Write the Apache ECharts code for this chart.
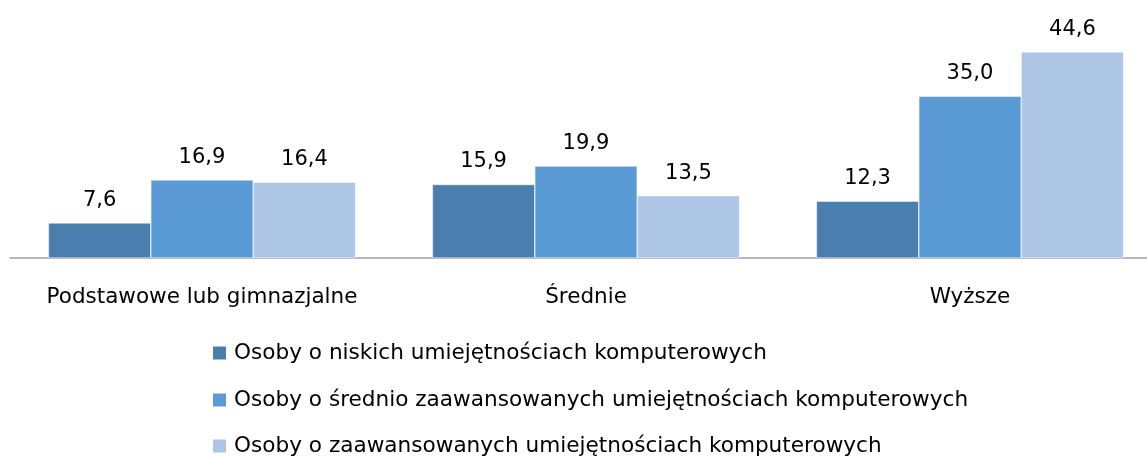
<!DOCTYPE html>
<html>
<head>
<meta charset="utf-8">
<script src="https://cdn.jsdelivr.net/npm/echarts@6/dist/echarts.min.js"></script>
<style>
  html, body { margin: 0; padding: 0; background: #fff; }
  #chartContainer { width: 1147px; height: 457px; }
</style>
</head>
<body>
<div id="chartContainer"></div>
<script>
// wykształcenie
let categories = ['Podstawowe lub gimnazjalne', 'Średnie', 'Wyższe'];

let seriesNames = [
    'Osoby o niskich umiejętnościach komputerowych',
    'Osoby o średnio zaawansowanych umiejętnościach komputerowych',
    'Osoby o zaawansowanych umiejętnościach komputerowych'
];

let niskie = [7.6, 15.9, 12.3];
let srednie = [16.9, 19.9, 35.0];
let zaawansowane = [16.4, 13.5, 44.6];

let colors = ['#4A7EAE', '#5B9BD5', '#AEC6E6'];
let font = '"DejaVu Sans", sans-serif';

let chartDom = document.getElementById('chartContainer');
let myChart = echarts.init(chartDom);

function makeSeries(name, data, color) {
    return {
        name: name,
        type: 'bar',
        data: data,
        barGap: '0%',
        barCategoryGap: '20%',
        itemStyle: {color: color, borderColor: '#fff', borderWidth: 0.5},
        label: {
            show: true,
            position: 'top',
            distance: 12,
            color: '#000',
            fontFamily: font,
            fontSize: 21,
            formatter: p => p.value.toFixed(1).replace('.', ',')
        }
    };
}

// one legend per row, stacked
let legendTops = [337, 384, 430];
let legends = seriesNames.map((name, i) => ({
    orient: 'vertical',
    left: 206,
    top: legendTops[i],
    itemWidth: 15,
    itemHeight: 15,
    icon: 'rect',
    textStyle: {fontFamily: font, fontSize: 21.6, color: '#000', padding: [0, 0, 0, 2]},
    data: [name]
}));

let option = {
    animation: false,
    color: colors,
    grid: {left: 10, right: -15, top: 27, bottom: 199, containLabel: false, outerBoundsMode: 'none'},
    legend: legends,
    xAxis: {
        type: 'category',
        data: categories,
        axisLine: {lineStyle: {color: '#A0A0A0', width: 1.5}},
        axisTick: {show: false},
        axisLabel: {interval: 0, fontFamily: font, fontSize: 21.5, color: '#000', margin: 28}
    },
    yAxis: {
        type: 'value',
        min: 0,
        max: 50,
        show: false,
        splitLine: {show: false}
    },
    series: [
        makeSeries(seriesNames[0], niskie, colors[0]),
        makeSeries(seriesNames[1], srednie, colors[1]),
        makeSeries(seriesNames[2], zaawansowane, colors[2])
    ]
};

myChart.setOption(option);
</script>
</body>
</html>
